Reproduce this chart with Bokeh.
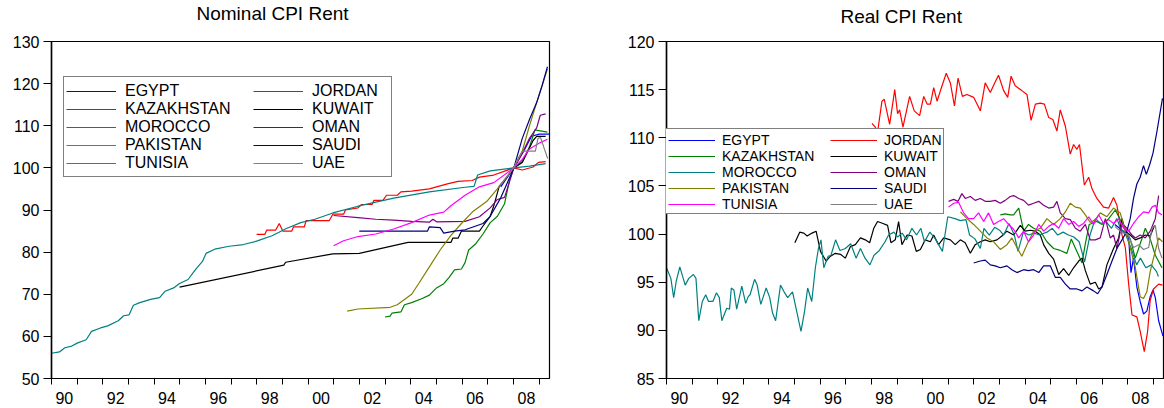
from bokeh.plotting import figure
from bokeh.layouts import row
from bokeh.models import Range1d, FixedTicker, Legend, LegendItem, Title
from bokeh.embed import file_html
from bokeh.resources import INLINE

NAMES = ["EGYPT", "JORDAN", "KAZAKHSTAN", "KUWAIT", "MOROCCO",
         "OMAN", "PAKISTAN", "SAUDI", "TUNISIA", "UAE"]
COLORS = ["#0000ff", "#ff0000", "#008000", "#000000", "#008080",
          "#800080", "#808000", "#000080", "#ff00ff", "#808080"]

X_LABEL_POS = [1990.5, 1992.5, 1994.5, 1996.5, 1998.5, 2000.5, 2002.5, 2004.5, 2006.5, 2008.5]
X_LABELS = ["90", "92", "94", "96", "98", "00", "02", "04", "06", "08"]
YEAR_TICKS = list(range(1990, 2010))
NOM_YTICKS = [50, 60, 70, 80, 90, 100, 110, 120, 130]
REAL_YTICKS = [85, 90, 95, 100, 105, 110, 115, 120]

# ---------------- Nominal CPI Rent ----------------
NOM_EGYPT_T = [2007.50, 2008.01, 2008.40, 2008.70, 2009.00, 2009.38]
NOM_EGYPT_V = [95.5, 100.0, 104.0, 107.5, 108.0, 108.0]

NOM_JORDAN_T = [1997.99, 1998.31, 1998.38, 1998.73, 1998.87, 1999.01, 1999.36, 1999.43, 1999.85,
                1999.92, 2000.82, 2000.96, 2001.38, 2001.45, 2001.94, 2002.08, 2002.49, 2002.56,
                2002.91, 2003.05, 2003.47, 2003.61, 2004.03, 2004.72, 2005.42, 2005.84, 2006.39,
                2006.67, 2007.23, 2008.01, 2008.34, 2008.76, 2008.97, 2009.25]
NOM_JORDAN_V = [84.2, 84.2, 85.2, 85.2, 86.8, 85.0, 85.0, 86.0, 86.0,
                87.5, 87.5, 89.0, 89.0, 90.0, 90.5, 91.3, 91.3, 92.3,
                92.3, 93.5, 93.5, 94.3, 94.5, 95.0, 96.2, 96.8, 97.0,
                97.8, 98.3, 100.0, 99.5, 100.2, 101.3, 101.5]

NOM_KAZ_T = [2002.99, 2003.19, 2003.26, 2003.61, 2003.75, 2004.03, 2004.44, 2004.72, 2005.00,
             2005.28, 2005.49, 2005.70, 2005.97, 2006.11, 2006.25, 2006.53, 2006.81, 2007.09,
             2007.37, 2007.65, 2007.84, 2008.01, 2008.34, 2008.62, 2008.83, 2009.04, 2009.32]
NOM_KAZ_V = [64.6, 64.8, 65.5, 65.8, 67.5, 68.0, 69.0, 69.8, 71.5,
             72.5, 74.0, 75.8, 76.0, 77.5, 80.5, 82.0, 84.3, 87.0,
             88.5, 91.5, 97.0, 100.0, 101.5, 105.0, 109.0, 108.8, 108.5]

NOM_KUWAIT_T = [1994.99, 1999.05, 1999.12, 2000.96, 2001.99, 2003.89, 2005.56, 2005.63, 2005.84,
                2005.97, 2006.67, 2006.81, 2007.09, 2007.23, 2007.44, 2007.70, 2008.01, 2008.34,
                2008.48, 2008.76, 2008.90, 2009.25]
NOM_KUWAIT_V = [71.7, 76.9, 77.6, 79.6, 79.7, 82.3, 82.3, 83.3, 83.3,
                85.0, 85.0, 86.2, 88.5, 91.0, 95.6, 97.5, 100.0, 101.3,
                103.0, 106.5, 107.5, 107.5]

NOM_MOROCCO_T = [1990.00, 1990.31, 1990.52, 1990.79, 1991.00, 1991.35, 1991.56, 1991.91, 1992.19,
                 1992.60, 1992.81, 1993.02, 1993.19, 1993.44, 1993.86, 1994.21, 1994.42, 1994.76,
                 1994.97, 1995.32, 1995.60, 1995.88, 1996.02, 1996.36, 1996.92, 1997.48, 1997.99,
                 1998.59, 1999.15, 1999.71, 2000.26, 2000.96, 2001.94, 2003.33, 2004.72, 2006.11,
                 2006.46, 2006.60, 2007.09, 2008.01, 2008.62, 2009.25]
NOM_MOROCCO_V = [56.0, 56.3, 57.3, 57.7, 58.4, 59.2, 61.2, 62.0, 62.5,
                 63.7, 64.9, 65.1, 67.4, 68.0, 68.8, 69.2, 70.7, 71.5,
                 72.5, 73.5, 75.8, 77.8, 79.7, 80.7, 81.4, 81.8, 82.6,
                 83.9, 85.6, 87.0, 87.8, 89.3, 90.9, 92.8, 94.3, 95.4,
                 95.6, 98.3, 99.3, 100.0, 100.4, 101.0]

NOM_OMAN_T = [2000.99, 2001.94, 2002.63, 2003.33, 2004.03, 2004.72, 2004.86, 2005.00, 2006.11,
              2006.67, 2007.09, 2007.37, 2007.65, 2008.01, 2008.34, 2008.62, 2008.90, 2009.04, 2009.25]
NOM_OMAN_V = [88.7, 88.2, 87.8, 87.6, 87.3, 87.1, 87.8, 87.2, 87.3,
              88.4, 90.5, 92.5, 93.0, 100.0, 103.5, 107.0, 109.5, 112.5, 112.8]

NOM_PAK_T = [2001.52, 2001.94, 2003.19, 2003.47, 2004.03, 2004.30, 2004.72, 2005.14, 2005.56,
             2005.97, 2006.39, 2006.95, 2007.37, 2008.01, 2008.34, 2008.62, 2008.90, 2009.32]
NOM_PAK_V = [66.0, 66.5, 66.9, 67.5, 70.0, 72.5, 76.5, 80.5, 84.0,
             86.8, 89.5, 92.0, 95.0, 100.0, 104.0, 110.0, 115.5, 123.5]

NOM_SAUDI_T = [2001.99, 2004.65, 2004.72, 2005.14, 2005.28, 2005.70, 2006.11, 2006.53, 2006.81,
               2007.09, 2007.51, 2008.01, 2008.34, 2008.62, 2008.90, 2009.11, 2009.32]
NOM_SAUDI_V = [85.0, 85.0, 86.0, 85.8, 84.5, 85.0, 85.3, 86.2, 86.8,
               88.5, 93.0, 100.0, 107.0, 111.5, 115.5, 119.5, 124.0]

NOM_TUNISIA_T = [2000.99, 2001.38, 2001.94, 2002.63, 2003.33, 2004.03, 2004.72, 2005.28, 2005.56,
                 2006.11, 2006.67, 2007.23, 2008.01, 2008.34, 2008.62, 2009.04, 2009.32]
NOM_TUNISIA_V = [81.5, 82.7, 83.7, 84.3, 85.5, 87.0, 88.8, 89.5, 91.0,
                 93.5, 95.5, 96.5, 100.0, 102.0, 104.5, 106.0, 106.8]

NOM_UAE_T = [2007.50, 2007.75, 2008.00, 2008.20, 2008.35, 2008.85, 2008.95, 2009.05, 2009.20, 2009.33]
NOM_UAE_V = [96.0, 98.0, 100.0, 102.5, 104.0, 104.0, 107.0, 107.2, 104.5, 102.2]

# ---------------- Real CPI Rent ----------------
REAL_EGYPT_T = [2007.50, 2007.84, 2008.04, 2008.13, 2008.23, 2008.36, 2008.49, 2008.62, 2008.75,
                2008.88, 2008.99, 2009.08, 2009.21, 2009.38]
REAL_EGYPT_V = [101.0, 100.3, 99.6, 96.0, 97.5, 94.5, 93.0, 91.7, 92.0,
                93.5, 94.2, 93.4, 91.0, 89.4]

REAL_JORDAN_T = [1998.02, 1998.15, 1998.24, 1998.41, 1998.50, 1998.71, 1998.91, 1999.02, 1999.10,
                 1999.23, 1999.49, 1999.67, 1999.88, 2000.04, 2000.17, 2000.30, 2000.43, 2000.56,
                 2000.73, 2000.92, 2001.08, 2001.24, 2001.38, 2001.55, 2001.73, 2001.99, 2002.25,
                 2002.44, 2002.64, 2002.81, 2002.96, 2003.16, 2003.32, 2003.45, 2003.61, 2003.87,
                 2004.07, 2004.23, 2004.40, 2004.59, 2004.75, 2004.92, 2005.08, 2005.24, 2005.37,
                 2005.57, 2005.76, 2005.89, 2006.02, 2006.12, 2006.31, 2006.48, 2006.61, 2006.80,
                 2007.06, 2007.26, 2007.45, 2007.58, 2007.78, 2007.91, 2008.04, 2008.17, 2008.36,
                 2008.49, 2008.65, 2008.78, 2008.88, 2009.01, 2009.21, 2009.36]
REAL_JORDAN_V = [111.5, 111.1, 110.6, 113.8, 114.0, 111.4, 115.0, 112.5, 112.9,
                 111.1, 114.3, 112.8, 112.3, 114.3, 113.5, 113.5, 115.2, 113.8,
                 115.2, 116.7, 115.7, 113.3, 116.2, 114.3, 114.5, 114.2, 112.8,
                 115.7, 114.7, 115.7, 116.5, 114.9, 114.2, 116.4, 115.4, 114.9,
                 114.5, 111.8, 113.5, 113.6, 113.5, 112.1, 111.9, 110.7, 112.9,
                 111.2, 108.3, 109.3, 108.8, 109.3, 105.1, 105.9, 104.7, 103.7,
                 102.8, 102.7, 103.8, 103.0, 99.9, 98.6, 94.8, 91.6, 91.4,
                 89.9, 87.8, 89.9, 93.1, 94.3, 94.8, 94.7]

REAL_KAZ_T = [2003.03, 2003.22, 2003.42, 2003.55, 2003.75, 2003.94, 2004.13, 2004.33, 2004.59,
              2004.85, 2005.11, 2005.37, 2005.63, 2005.80, 2006.02, 2006.22, 2006.35, 2006.50,
              2006.80, 2007.00, 2007.26, 2007.52, 2007.71, 2007.91, 2008.10, 2008.30, 2008.49,
              2008.69, 2008.88, 2009.08, 2009.34]
REAL_KAZ_V = [102.0, 102.1, 102.0, 102.0, 102.7, 100.3, 101.0, 100.6, 100.3,
              99.2, 98.5, 98.3, 98.0, 99.5, 98.2, 97.0, 99.0, 101.0,
              101.3, 101.0, 101.6, 102.5, 101.5, 100.5, 99.5, 97.5, 99.0,
              100.6, 99.5, 97.8, 96.5]

REAL_KUWAIT_T = [1995.01, 1995.20, 1995.36, 1995.49, 1995.68, 1995.84, 1996.01, 1996.23, 1996.40,
                 1996.59, 1996.79, 1996.98, 1997.18, 1997.37, 1997.57, 1997.76, 1997.93, 1998.09,
                 1998.24, 1998.45, 1998.63, 1998.76, 1998.93, 1999.06, 1999.19, 1999.39, 1999.58,
                 1999.75, 1999.91, 2000.10, 2000.30, 2000.43, 2000.62, 2000.82, 2001.08, 2001.27,
                 2001.47, 2001.66, 2001.86, 2002.05, 2002.25, 2002.44, 2002.64, 2002.90, 2003.09,
                 2003.29, 2003.55, 2003.81, 2004.00, 2004.20, 2004.40, 2004.59, 2004.72, 2004.92,
                 2005.11, 2005.31, 2005.50, 2005.70, 2005.89, 2006.09, 2006.22, 2006.35, 2006.54,
                 2006.74, 2006.87, 2007.00, 2007.19, 2007.45, 2007.65, 2007.78, 2007.91, 2008.10,
                 2008.30, 2008.49, 2008.69, 2008.88, 2009.05]
REAL_KUWAIT_V = [99.1, 100.2, 100.1, 99.8, 100.1, 100.3, 98.2, 97.2, 97.7,
                 98.0, 97.9, 97.5, 98.7, 98.9, 99.6, 99.4, 99.1, 100.6,
                 101.3, 101.1, 100.9, 99.1, 99.4, 101.3, 98.9, 99.9, 99.8,
                 98.2, 98.4, 99.4, 99.2, 99.9, 98.9, 99.6, 99.4, 98.9,
                 99.4, 99.1, 98.0, 98.9, 99.2, 99.4, 99.2, 99.4, 99.8,
                 100.3, 99.9, 100.9, 100.3, 100.4, 100.3, 99.9, 98.9, 98.0,
                 97.4, 95.8, 96.4, 95.7, 96.5, 97.2, 97.5, 96.2, 94.8,
                 95.0, 94.3, 94.5, 96.8, 98.5, 99.6, 101.6, 100.3, 99.9,
                 99.4, 99.6, 99.9, 99.8, 100.9]

REAL_MOROCCO_T = [1990.00, 1990.17, 1990.28, 1990.38, 1990.52, 1990.73, 1990.87, 1991.05, 1991.15,
                  1991.26, 1991.40, 1991.53, 1991.64, 1991.81, 1991.95, 1992.06, 1992.16, 1992.35,
                  1992.46, 1992.53, 1992.63, 1992.74, 1992.94, 1993.09, 1993.19, 1993.26, 1993.44,
                  1993.54, 1993.68, 1993.89, 1994.03, 1994.14, 1994.26, 1994.45, 1994.59, 1994.73,
                  1994.92, 1995.08, 1995.25, 1995.39, 1995.51, 1995.67, 1995.81, 1995.93, 1996.03,
                  1996.14, 1996.31, 1996.42, 1996.60, 1996.77, 1996.98, 1997.19, 1997.40, 1997.57,
                  1997.75, 1997.94, 1998.10, 1998.31, 1998.53, 1998.67, 1998.88, 1999.02, 1999.20,
                  1999.37, 1999.58, 1999.76, 1999.93, 2000.07, 2000.28, 2000.49, 2000.77, 2000.98,
                  2001.26, 2001.47, 2001.69, 2001.83, 2002.04, 2002.25, 2002.39, 2002.60, 2002.81,
                  2003.00, 2003.16, 2003.37, 2003.58, 2003.72, 2003.93, 2004.14, 2004.35, 2004.56,
                  2004.85, 2005.06, 2005.27, 2005.48, 2005.69, 2005.90, 2006.11, 2006.32, 2006.53,
                  2006.74, 2006.95, 2007.16, 2007.37, 2007.58, 2007.72, 2007.93, 2008.14, 2008.35,
                  2008.50, 2008.71, 2008.92, 2009.13, 2009.20]
REAL_MOROCCO_V = [96.5, 95.4, 93.4, 95.1, 96.6, 94.7, 95.4, 95.8, 95.4,
                  91.0, 93.0, 93.7, 93.0, 93.0, 93.9, 93.4, 91.0, 92.3,
                  92.2, 94.4, 94.2, 92.2, 94.6, 92.8, 93.5, 93.7, 95.3,
                  94.7, 92.7, 94.4, 93.4, 91.8, 91.0, 94.7, 94.0, 93.4,
                  94.0, 92.0, 89.9, 92.0, 94.4, 93.0, 96.5, 98.5, 99.4,
                  96.5, 97.7, 97.8, 99.4, 98.3, 98.5, 99.0, 97.5, 98.5,
                  97.5, 96.8, 97.8, 98.3, 99.2, 99.9, 100.2, 99.7, 100.1,
                  99.4, 100.6, 99.9, 100.6, 99.2, 100.2, 99.5, 98.2, 101.8,
                  101.6, 101.4, 101.5, 99.9, 99.5, 98.5, 100.6, 99.9, 100.7,
                  100.4, 99.9, 101.1, 99.9, 98.2, 100.2, 99.9, 100.1, 99.9,
                  100.2, 100.6, 99.9, 100.2, 99.9, 99.7, 99.2, 97.1, 99.9,
                  101.6, 101.1, 101.3, 100.6, 101.6, 100.6, 99.9, 98.5, 96.8,
                  97.5, 96.5, 96.8, 96.1, 95.6]

REAL_OMAN_T = [2001.01, 2001.21, 2001.38, 2001.53, 2001.66, 2001.86, 2002.05, 2002.25, 2002.44,
               2002.64, 2002.83, 2003.03, 2003.22, 2003.42, 2003.55, 2003.75, 2003.94, 2004.13,
               2004.33, 2004.53, 2004.72, 2004.92, 2005.11, 2005.24, 2005.37, 2005.57, 2005.76,
               2005.96, 2006.15, 2006.35, 2006.54, 2006.74, 2006.93, 2007.13, 2007.32, 2007.45,
               2007.58, 2007.78, 2007.97, 2008.17, 2008.30, 2008.49, 2008.69, 2008.88, 2009.08, 2009.21]
REAL_OMAN_V = [103.4, 103.6, 103.4, 104.2, 103.7, 103.9, 103.5, 103.7, 103.4,
               103.4, 103.5, 103.2, 103.5, 103.9, 104.0, 103.7, 103.5, 103.0,
               103.2, 103.4, 103.0, 102.7, 102.8, 103.4, 102.2, 101.6, 101.5,
               100.6, 100.3, 101.0, 99.4, 99.4, 99.6, 101.6, 99.6, 99.9,
               98.5, 101.1, 100.6, 99.9, 99.6, 99.9, 99.6, 100.3, 101.6, 104.0]

REAL_PAK_T = [2001.47, 2001.73, 2001.99, 2002.25, 2002.51, 2002.77, 2003.03, 2003.29, 2003.48,
              2003.68, 2003.87, 2004.07, 2004.33, 2004.59, 2004.85, 2005.11, 2005.37, 2005.57,
              2005.76, 2005.96, 2006.15, 2006.35, 2006.54, 2006.74, 2006.93, 2007.19, 2007.45,
              2007.71, 2007.91, 2008.10, 2008.30, 2008.49, 2008.62, 2008.75, 2008.88, 2009.01,
              2009.21, 2009.36]
REAL_PAK_V = [102.3, 101.6, 101.0, 100.3, 99.6, 99.2, 98.4, 98.9, 99.6,
              98.6, 97.7, 98.9, 100.3, 100.6, 101.6, 101.0, 101.6, 102.3,
              103.2, 102.8, 102.7, 102.0, 101.2, 101.5, 102.2, 101.8, 102.7,
              102.2, 100.3, 98.6, 96.5, 93.5, 93.3, 94.0, 96.1, 97.5,
              99.6, 99.2]

REAL_SAUDI_T = [2001.99, 2002.25, 2002.44, 2002.64, 2002.83, 2003.03, 2003.29, 2003.48, 2003.68,
                2003.94, 2004.13, 2004.33, 2004.53, 2004.72, 2004.98, 2005.18, 2005.37, 2005.57,
                2005.76, 2006.02, 2006.22, 2006.41, 2006.67, 2006.83, 2007.00, 2007.19, 2007.39,
                2007.58, 2007.78, 2007.97, 2008.10, 2008.23, 2008.36, 2008.49, 2008.62, 2008.73,
                2008.86, 2008.99, 2009.14, 2009.36]
REAL_SAUDI_V = [97.0, 97.2, 97.3, 96.8, 96.7, 96.5, 96.7, 96.3, 96.0,
                96.3, 96.2, 96.3, 96.0, 96.7, 96.7, 95.5, 95.5, 94.8,
                94.3, 94.3, 94.1, 94.5, 94.1, 93.8, 94.5, 95.8, 97.2,
                98.5, 99.4, 100.3, 101.6, 103.7, 105.2, 105.9, 107.1, 106.2,
                107.2, 108.4, 110.6, 114.1]

REAL_TUNISIA_T = [2001.01, 2001.21, 2001.40, 2001.60, 2001.79, 2001.99, 2002.18, 2002.38, 2002.57,
                  2002.77, 2002.96, 2003.16, 2003.35, 2003.55, 2003.75, 2003.94, 2004.13, 2004.33,
                  2004.53, 2004.72, 2004.92, 2005.11, 2005.31, 2005.50, 2005.70, 2005.89, 2006.09,
                  2006.28, 2006.48, 2006.67, 2006.87, 2007.06, 2007.26, 2007.45, 2007.65, 2007.84,
                  2008.04, 2008.23, 2008.43, 2008.62, 2008.82, 2008.95, 2009.08, 2009.21, 2009.34]
REAL_TUNISIA_V = [102.8, 103.2, 103.3, 102.2, 101.6, 101.6, 102.2, 101.3, 102.2,
                  101.0, 101.3, 101.6, 101.0, 100.5, 99.6, 100.3, 99.2, 99.9,
                  101.0, 100.3, 100.8, 101.1, 100.6, 101.6, 101.0, 101.3, 100.8,
                  101.1, 101.8, 101.0, 102.0, 101.1, 101.5, 101.1, 101.6, 100.6,
                  100.3, 101.1, 101.8, 102.3, 102.2, 102.8, 103.0, 102.2, 102.0]

REAL_UAE_T = [2007.50, 2007.75, 2008.00, 2008.23, 2008.43, 2008.62, 2008.82, 2008.95, 2009.08,
              2009.21, 2009.34]
REAL_UAE_V = [100.8, 100.2, 100.0, 98.6, 98.9, 98.4, 98.6, 100.6, 100.9, 98.5, 97.5]

NOMINAL = [(NOM_EGYPT_T, NOM_EGYPT_V), (NOM_JORDAN_T, NOM_JORDAN_V), (NOM_KAZ_T, NOM_KAZ_V),
           (NOM_KUWAIT_T, NOM_KUWAIT_V), (NOM_MOROCCO_T, NOM_MOROCCO_V), (NOM_OMAN_T, NOM_OMAN_V),
           (NOM_PAK_T, NOM_PAK_V), (NOM_SAUDI_T, NOM_SAUDI_V), (NOM_TUNISIA_T, NOM_TUNISIA_V),
           (NOM_UAE_T, NOM_UAE_V)]
REAL = [(REAL_EGYPT_T, REAL_EGYPT_V), (REAL_JORDAN_T, REAL_JORDAN_V), (REAL_KAZ_T, REAL_KAZ_V),
        (REAL_KUWAIT_T, REAL_KUWAIT_V), (REAL_MOROCCO_T, REAL_MOROCCO_V), (REAL_OMAN_T, REAL_OMAN_V),
        (REAL_PAK_T, REAL_PAK_V), (REAL_SAUDI_T, REAL_SAUDI_V), (REAL_TUNISIA_T, REAL_TUNISIA_V),
        (REAL_UAE_T, REAL_UAE_V)]

FONT = "Liberation Sans"


def make_panel(title, series, yticks, yrange, width, height, borders, title_offset, title_gap,
               leg):
    bl, br, bt, bb = borders
    p = figure(width=width, height=height, output_backend="svg", toolbar_location=None,
               title=None,
               x_range=Range1d(1990.0, 2009.4), y_range=Range1d(*yrange),
               min_border_left=bl, min_border_right=br, min_border_top=bt, min_border_bottom=bb,
               background_fill_color="white", border_fill_color="white")
    p.outline_line_color = "black"
    p.outline_line_width = 1.2
    p.grid.visible = False

    # spacer next to the frame, then the chart title above it
    p.add_layout(Title(text=" ", text_font_size="1px", standoff=title_gap), "above")
    p.add_layout(Title(text=title, align="left", offset=title_offset, standoff=0,
                       text_font=FONT, text_font_size="19px", text_font_style="normal",
                       text_color="black"), "above")

    xa = p.xaxis[0]
    xa.ticker = FixedTicker(ticks=X_LABEL_POS, minor_ticks=YEAR_TICKS)
    xa.major_label_overrides = {pos: lab for pos, lab in zip(X_LABEL_POS, X_LABELS)}
    xa.major_tick_out = 0
    xa.major_tick_in = 0
    xa.minor_tick_out = 6
    xa.minor_tick_in = 0
    xa.minor_tick_line_color = "black"
    xa.axis_line_color = "black"
    xa.axis_line_width = 1.2
    xa.major_label_standoff = 7
    xa.major_label_text_font = FONT
    xa.major_label_text_font_size = "16px"
    xa.major_label_text_color = "black"

    ya = p.yaxis[0]
    ya.ticker = FixedTicker(ticks=yticks, minor_ticks=[])
    ya.major_tick_out = 8
    ya.major_tick_in = 0
    ya.major_tick_line_color = "black"
    ya.axis_line_color = "black"
    ya.axis_line_width = 1.5
    ya.major_label_standoff = 4
    ya.major_label_text_font = FONT
    ya.major_label_text_font_size = "16px"
    ya.major_label_text_color = "black"

    renderers = []
    for (t, v), color in zip(series, COLORS):
        renderers.append(p.line(t, v, line_color=color, line_width=1.2))

    (x_box, y_box, box_w, box_h, x_b, y_items, font, gw, gs, pad, gh) = leg

    # legend frame: one blank entry sized to the box, drawn underneath
    blank = p.line(x=[], y=[], line_alpha=0.0)
    frame = Legend(items=[LegendItem(label=" ", renderers=[blank])], location=(x_box, y_box),
                   glyph_width=1, glyph_height=1, label_standoff=0,
                   label_width=box_w - 1, label_height=box_h, label_text_font_size="1px",
                   padding=0, spacing=0, margin=0,
                   border_line_color="black", border_line_width=1.2,
                   background_fill_color="white", background_fill_alpha=1.0)
    p.add_layout(frame, "center")

    common = dict(orientation="vertical", label_text_font=FONT, label_text_font_size=font,
                  label_text_color="black",
                  glyph_width=gw, glyph_height=gh, label_height=gh, label_standoff=gs,
                  spacing=0, padding=pad, margin=0,
                  border_line_alpha=0.0, background_fill_alpha=0.0)
    col1 = [0, 2, 4, 6, 8]
    col2 = [1, 3, 5, 7, 9]
    leg_a = Legend(items=[LegendItem(label=NAMES[i], renderers=[renderers[i]]) for i in col1],
                   location=(x_box, y_items), **common)
    leg_b = Legend(items=[LegendItem(label=NAMES[i], renderers=[renderers[i]]) for i in col2],
                   location=(x_b, y_items), **common)
    p.add_layout(leg_a, "center")
    p.add_layout(leg_b, "center")
    return p


p1 = make_panel("Nominal CPI Rent", NOMINAL, NOM_YTICKS, (50, 130), 600, 408,
                (51, 51, 41, 26), 145, 15,
                (12, 201, 327, 99, 199, 203, "16px", 50, 9, 3, 18))
p2 = make_panel("Real CPI Rent", REAL, REAL_YTICKS, (85, 120), 564, 408,
                (66, 1, 38, 30), 174, 12,
                (-1, 164, 277, 84, 161, 163, "14px", 47, 7, 3, 10))

layout = row(p1, p2)
open("out.html", "w").write(file_html(layout, INLINE))
